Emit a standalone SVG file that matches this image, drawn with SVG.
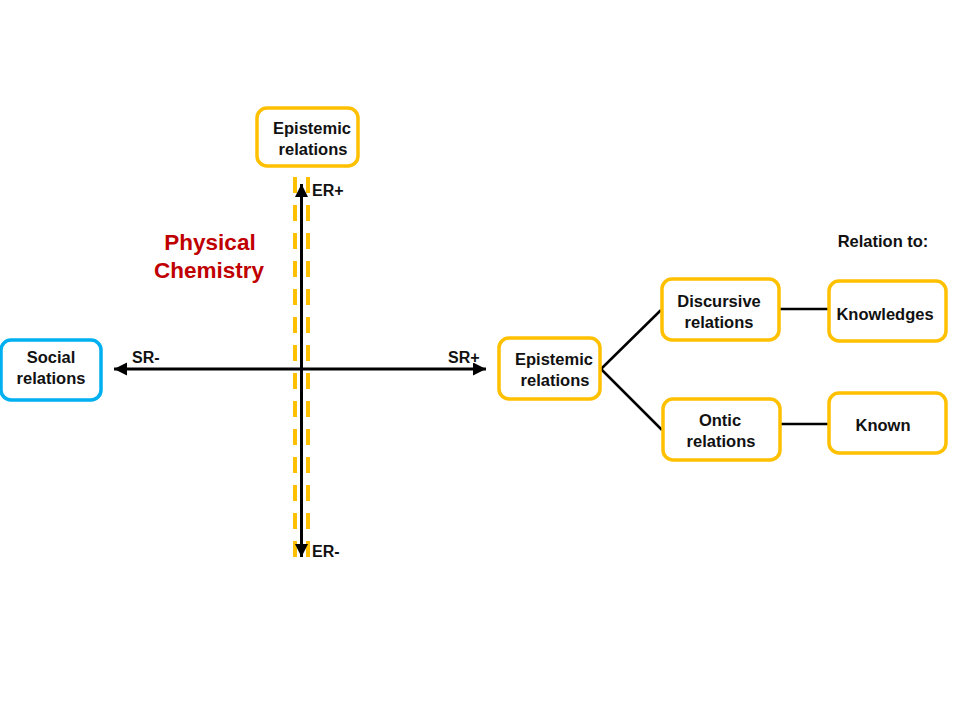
<svg xmlns="http://www.w3.org/2000/svg" width="960" height="720" viewBox="0 0 960 720">
  <style>
    .box { fill: #ffffff; stroke: #FFC000; stroke-width: 3.5; }
    .sbox { fill: #ffffff; stroke: #00B0F0; stroke-width: 3.5; }
    .t { font-family: "Liberation Sans", Arial, sans-serif; font-weight: bold; font-size: 16.5px; fill: #111111; text-anchor: middle; }
    .lab { font-family: "Liberation Sans", Arial, sans-serif; font-weight: bold; font-size: 16px; fill: #111111; }
    .red { font-family: "Liberation Sans", Arial, sans-serif; font-weight: bold; font-size: 22.5px; fill: #C00000; text-anchor: middle; }
    .axis { stroke: #000000; stroke-width: 3; fill: none; }
    .conn { stroke: #000000; stroke-width: 2.5; fill: none; }
    .dash { stroke: #FFC000; stroke-width: 4; stroke-dasharray: 16 12; fill: none; }
  </style>
  <defs>
    <marker id="arrow" markerUnits="userSpaceOnUse" markerWidth="14" markerHeight="14" refX="13" refY="6.5" orient="auto-start-reverse">
      <path d="M0,0 L13,6.5 L0,13 z" fill="#000000"/>
    </marker>
  </defs>

  <rect width="960" height="720" fill="#ffffff"/>

  <g id="guides">
    <line class="dash" x1="295" y1="177" x2="295" y2="560"/>
    <line class="dash" x1="308" y1="177" x2="308" y2="560"/>
  </g>

  <g id="connectors">
    <line class="axis" x1="301.5" y1="184" x2="301.5" y2="557" marker-start="url(#arrow)" marker-end="url(#arrow)"/>
    <line class="axis" x1="114" y1="369" x2="486" y2="369" marker-start="url(#arrow)" marker-end="url(#arrow)"/>
    <line class="conn" x1="601" y1="369" x2="661" y2="310"/>
    <line class="conn" x1="601" y1="369" x2="662" y2="430"/>
    <line class="conn" x1="779" y1="309" x2="828" y2="309"/>
    <line class="conn" x1="781" y1="424" x2="828" y2="424"/>
  </g>

  <g id="axis-labels">
    <text class="lab" x="312" y="196">ER+</text>
    <text class="lab" x="312" y="557">ER-</text>
    <text class="lab" x="132" y="363">SR-</text>
    <text class="lab" x="448" y="363">SR+</text>
  </g>

  <g id="physical-chemistry">
    <text class="red" x="210" y="250">Physical</text>
    <text class="red" x="209" y="278">Chemistry</text>
  </g>

  <g id="relation-to">
    <text class="t" x="883" y="247">Relation to:</text>
  </g>

  <g id="node-epistemic-top">
    <rect class="box" x="257" y="108" width="101" height="58" rx="10"/>
    <text class="t" x="312" y="134">Epistemic</text>
    <text class="t" x="313" y="155">relations</text>
  </g>

  <g id="node-social">
    <rect class="sbox" x="1" y="340" width="100" height="60" rx="10"/>
    <text class="t" x="51" y="363">Social</text>
    <text class="t" x="51" y="384">relations</text>
  </g>

  <g id="node-epistemic-right">
    <rect class="box" x="499" y="338" width="101" height="61" rx="10"/>
    <text class="t" x="554" y="365">Epistemic</text>
    <text class="t" x="555" y="386">relations</text>
  </g>

  <g id="node-discursive">
    <rect class="box" x="662" y="279" width="117" height="61" rx="10"/>
    <text class="t" x="719" y="307">Discursive</text>
    <text class="t" x="719" y="328">relations</text>
  </g>

  <g id="node-ontic">
    <rect class="box" x="663" y="399" width="117" height="61" rx="10"/>
    <text class="t" x="720" y="426">Ontic</text>
    <text class="t" x="721" y="447">relations</text>
  </g>

  <g id="node-knowledges">
    <rect class="box" x="829" y="281" width="117" height="60" rx="10"/>
    <text class="t" x="885" y="320">Knowledges</text>
  </g>

  <g id="node-known">
    <rect class="box" x="829" y="393" width="117" height="60" rx="10"/>
    <text class="t" x="883" y="431">Known</text>
  </g>
</svg>
